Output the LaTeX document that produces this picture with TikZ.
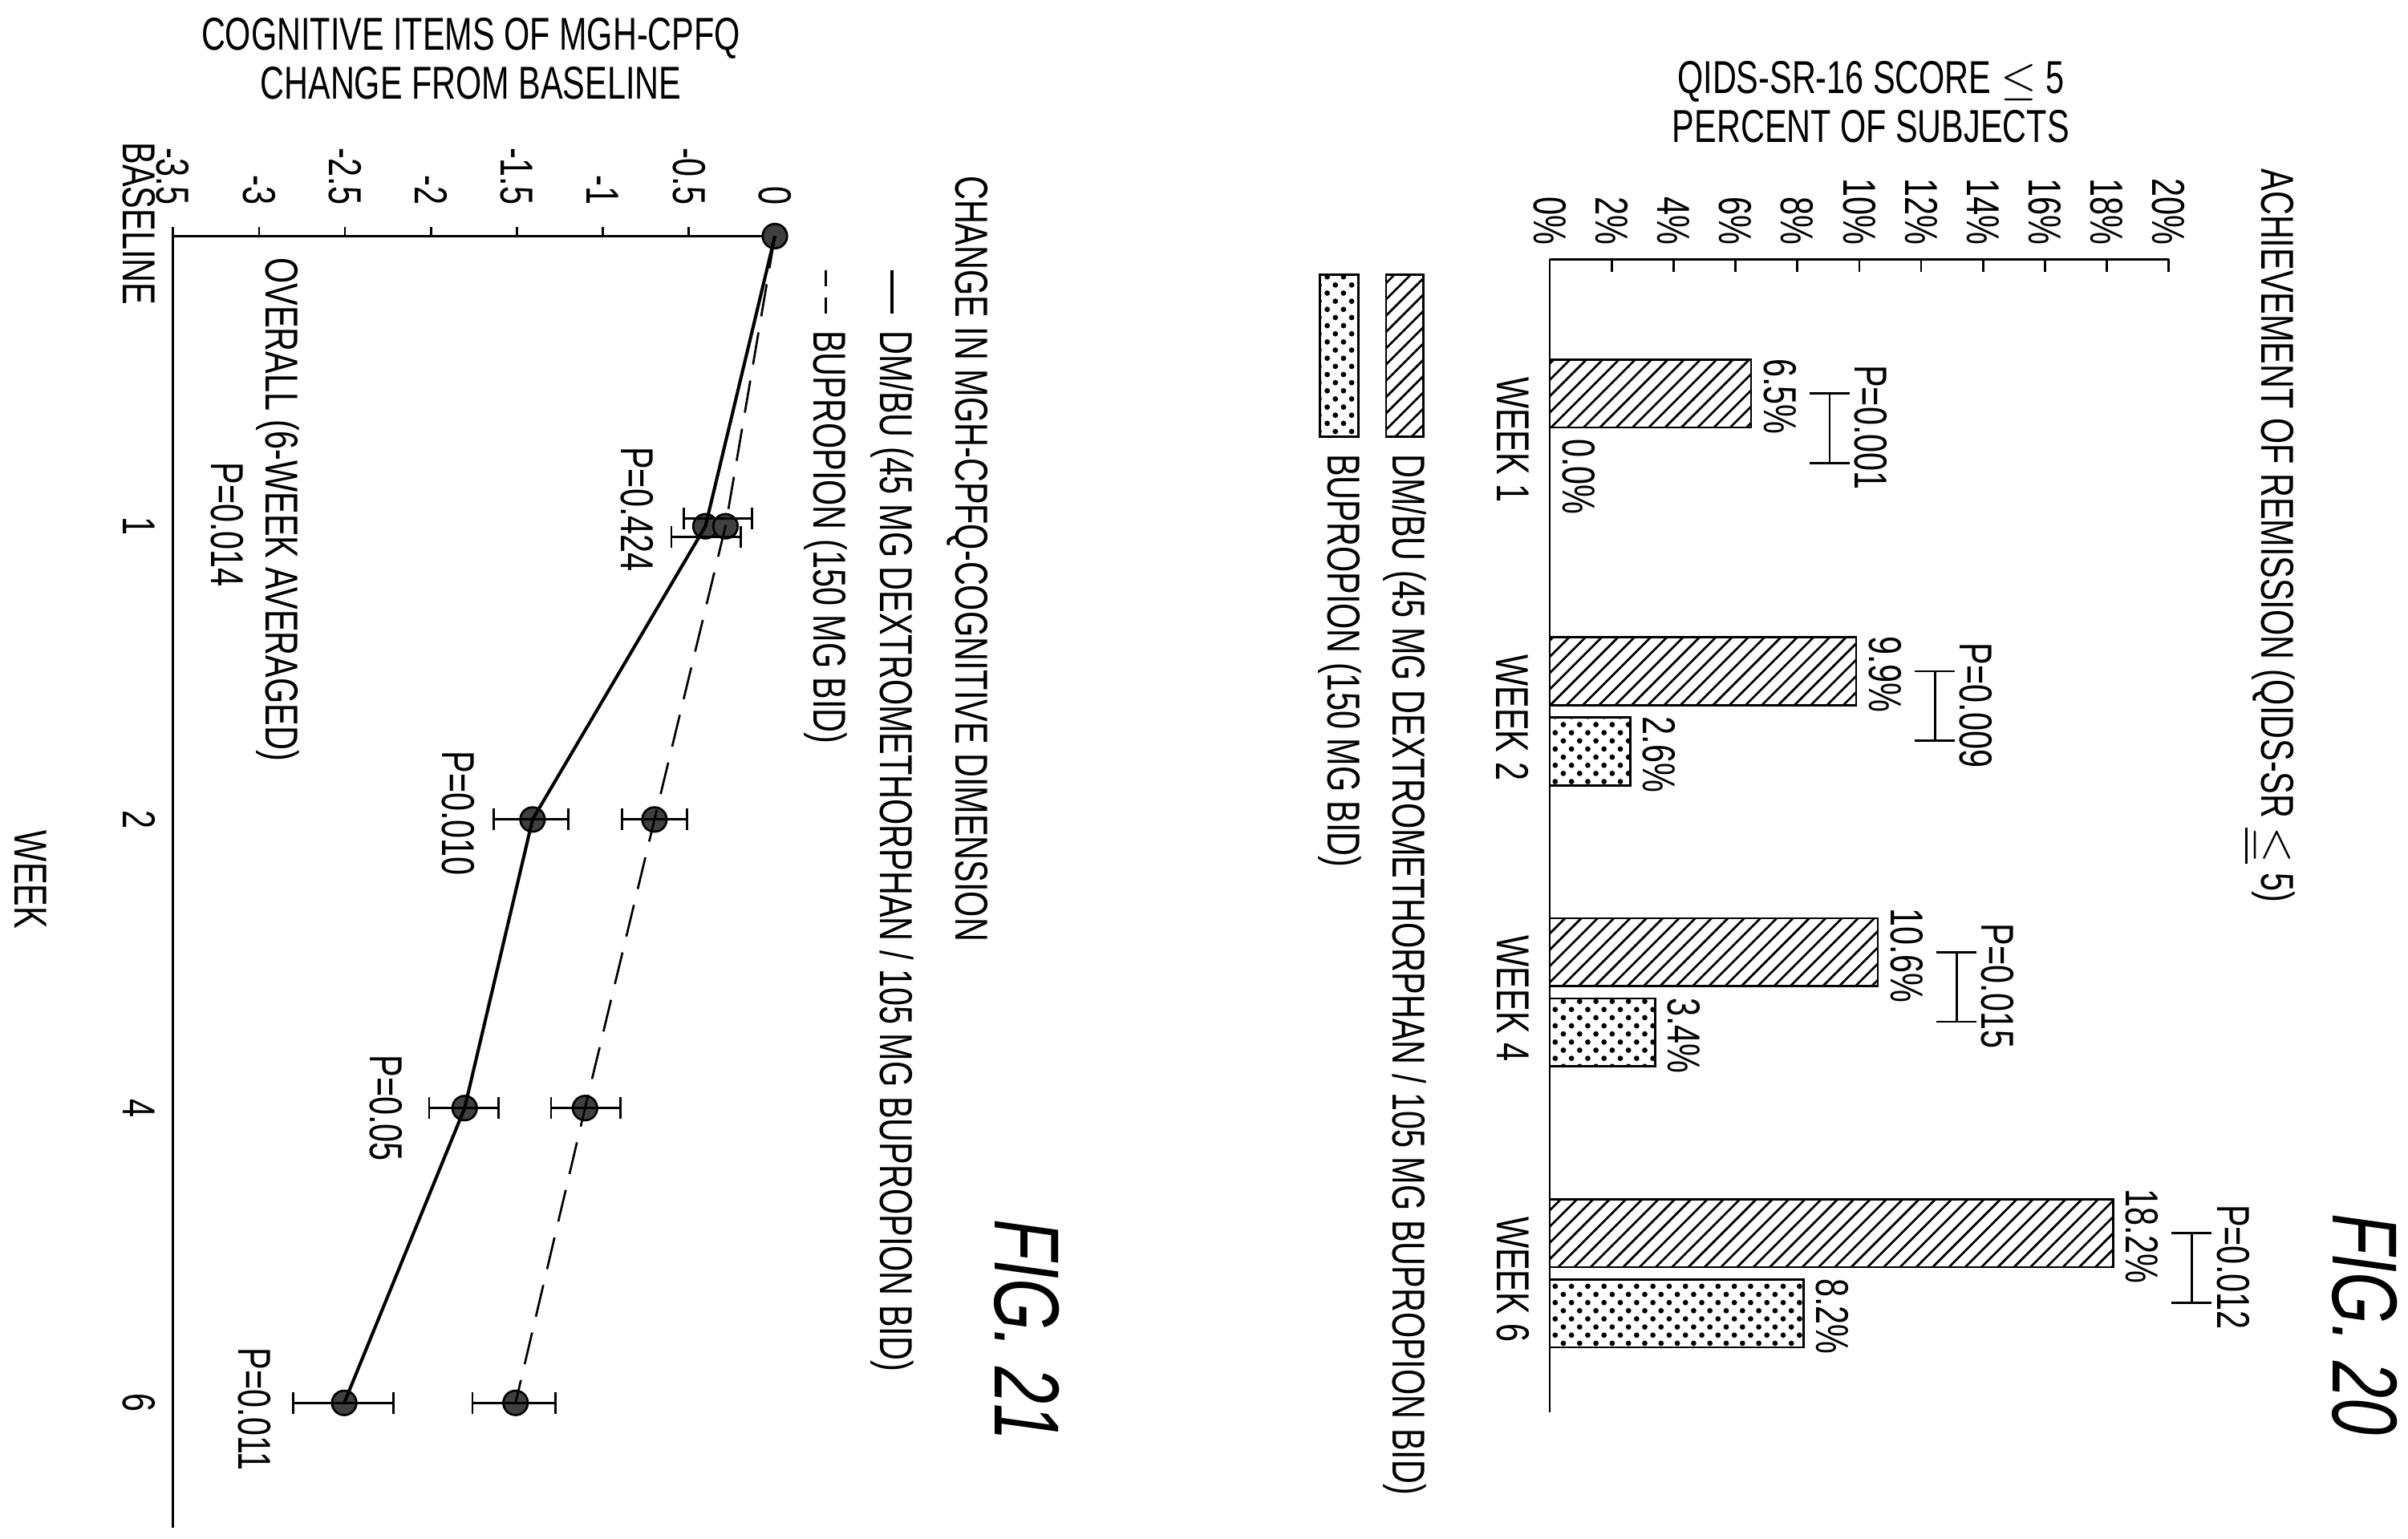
\documentclass[tikz,border=0pt]{standalone}
\usepackage{fontspec}
\setmainfont[FakeStretch=0.72]{Liberation Sans}
\usetikzlibrary{patterns}
\begin{document}
\begin{tikzpicture}[x=0.01cm,y=-0.01cm,
 lab/.style={font=\fontsize{8.5}{9}\selectfont,inner sep=1pt},
 rl/.style={lab,rotate=-90},
 figl/.style={rotate=-90,font=\fontsize{17}{18}\itshape},
 dmbar/.style={draw,pattern=north east lines},
 bubar/.style={draw,pattern=crosshatch dots},
 pt/.style={circle,fill=black!75,draw=black,inner sep=0pt,minimum size=4.5pt},
 eb/.style={thin}]
\useasboundingbox (0,0) rectangle (1560,997);
% ===== FIG 20 =====
\node[lab,align=center] (yt20) at (1212,66) {QIDS-SR-16 SCORE $\le$ 5\\PERCENT OF SUBJECTS};
\node[rl] (t20) at (1470,347) {ACHIEVEMENT OF REMISSION (QIDS-SR $\underline{\le}$ 5)};
\node[figl] (f20) at (1532,858) {FIG. 20};
\draw (1004,168) -- (1405,168);
\draw (1004,168) -- (1004,915);
\foreach \i in {0,...,10}{
 \pgfmathtruncatemacro\v{2*\i}
 \draw (1004+40.1*\i,168) -- (1004+40.1*\i,176);
 \node[rl,anchor=east] at (1004+40.1*\i,163) {\v\%};}
% bars
\foreach \w/\y/\a/\la/\b/\lb/\p in {1/233/6.5/6.5\%/0/0.0\%/P=0.001,2/413/9.9/9.9\%/2.6/2.6\%/P=0.009,4/595/10.6/10.6\%/3.4/3.4\%/P=0.015,6/777/18.2/18.2\%/8.2/8.2\%/P=0.012}{
 \draw[dmbar] (1004,\y) rectangle (1004+20.05*\a,\y+44);
 \ifdim \b pt>0pt \draw[bubar] (1004,\y+52) rectangle (1004+20.05*\b,\y+96);\fi
 \node[rl,anchor=south] at (1004+20.05*\a+4,\y+24) {\la};
 \node[rl,anchor=south] at (1004+20.05*\b+4,\y+76) {\lb};
 \draw (1004+20.05*\a+51,\y+22) -- (1004+20.05*\a+51,\y+67);
 \draw (1004+20.05*\a+38,\y+22) -- (1004+20.05*\a+64,\y+22);
 \draw (1004+20.05*\a+38,\y+67) -- (1004+20.05*\a+64,\y+67);
 \node[rl,anchor=south] at (1004+20.05*\a+63,\y+44) {\p};
 \node[rl] at (980,\y+52) {WEEK \w};}
\draw[dmbar] (898,178) rectangle (922,283);
\node[rl,anchor=west] at (910,290) {DM/BU (45 MG DEXTROMETHORPHAN / 105 MG BUPROPION BID)};
\draw[bubar] (855,178) rectangle (880,283);
\node[rl,anchor=west] at (868,290) {BUPROPION (150 MG BID)};
% ===== FIG 21 =====
\node[lab,align=center] (yt21) at (305,38) {COGNITIVE ITEMS OF MGH-CPFQ\\CHANGE FROM BASELINE};
\node[rl] (t21) at (627,362) {CHANGE IN MGH-CPFQ-COGNITIVE DIMENSION};
\node[figl] (f21) at (665,862) {FIG. 21};
\draw (112,153) -- (502,153);
\draw (112,153) -- (112,990);
\foreach \v/\l in {0/0,-0.5/-0.5,-1/-1,-1.5/-1.5,-2/-2,-2.5/-2.5,-3/-3,-3.5/-3.5}{
 \draw (502+111.4*\v,153) -- (502+111.4*\v,147);
 \node[rl,anchor=east] at (502+111.4*\v,137) {\l};}
\node[rl] at (90,145) {BASELINE};
\foreach \y/\l in {341/1,531/2,718/4,909/6}
 \node[rl] at (90,\y) {\l};
\node[rl] (wk) at (20,570) {WEEK};
% data points
\node[pt] (s0) at (502,153) {};
\node[pt] (s1) at (457,341) {};
\node[pt] (s2) at (345,531) {};
\node[pt] (s4) at (301,718) {};
\node[pt] (s6) at (223,909) {};
\node[pt] (d1) at (470,341) {};
\node[pt] (d2) at (424,531) {};
\node[pt] (d4) at (379,718) {};
\node[pt] (d6) at (334,909) {};
\draw[semithick] (s0.center) -- (s1.center) -- (s2.center) -- (s4.center) -- (s6.center);
\draw[thin,dash pattern=on 6pt off 3pt] (s0.center) -- (d1.center) -- (d2.center) -- (d4.center) -- (d6.center);
\foreach \a/\b/\y in {435/480/348,443/487/336,320/368/531,403/445/531,278/323/718,357/402/718,190/255/909,306/360/909}{
 \draw[eb] (\a,\y) -- (\b,\y);
 \draw[eb] (\a,\y-7) -- (\a,\y+7);
 \draw[eb] (\b,\y-7) -- (\b,\y+7);}
\node[rl] at (413,330) {P=0.424};
\node[rl] at (297,527) {P=0.010};
\node[rl] at (250,718) {P=0.05};
\node[rl] at (165,913) {P=0.011};
\node[rl] at (180,330) {OVERALL (6-WEEK AVERAGED)};
\node[rl] at (147,340) {P=0.014};
\coordinate (la) at (578,175); \coordinate (lb) at (578,203);
\draw[semithick] (la) -- (lb);
\node[rl,anchor=west] at (578,210) {DM/BU (45 MG DEXTROMETHORPHAN / 105 MG BUPROPION BID)};
\coordinate (lc) at (535,175); \coordinate (ld) at (535,203);
\draw[thin,dash pattern=on 3pt off 2pt] (lc) -- (ld);
\node[rl,anchor=west] at (535,210) {BUPROPION (150 MG BID)};
\end{tikzpicture}
\end{document}
